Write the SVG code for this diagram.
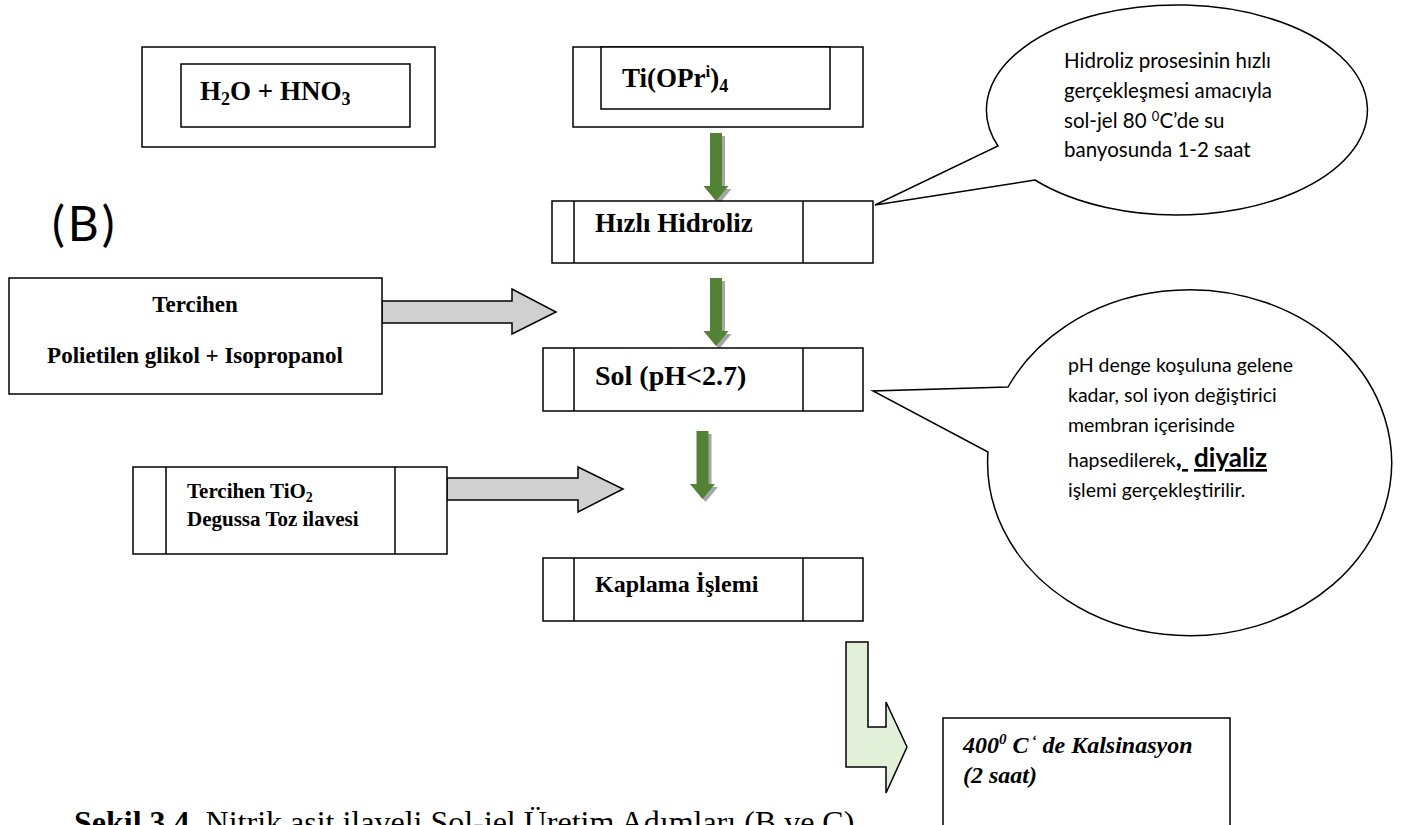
<svg xmlns="http://www.w3.org/2000/svg" width="1405" height="825" viewBox="0 0 1405 825">
<style>
.box{fill:#fff;stroke:#000;stroke-width:1.5}
.ln{stroke:#000;stroke-width:1.5}
.tb{font-family:"Liberation Serif","Times New Roman",serif;font-weight:bold;fill:#000}
.tr{font-family:"Liberation Serif","Times New Roman",serif;fill:#000}
.cal{font-family:Lato,"Open Sans",sans-serif;fill:#000;font-size:19.5px}
.cal1{font-family:Lato,"Open Sans",sans-serif;fill:#000;font-size:20.5px}
.green{fill:#548235}
.shadow{fill:#a5a5a5}
.gray{fill:#d0d0d0;stroke:#000;stroke-width:1.5;stroke-linejoin:miter}
.lgreen{fill:#e2efd9;stroke:#000;stroke-width:1.5}
.callout{fill:#fff;stroke:#000;stroke-width:1.5}
</style>
<defs>
<path id="ga" d="M-6,0 H6 V53 H12.5 L0,68 L-12.5,53 H-6 Z"/>
</defs>
<rect width="1405" height="825" fill="#fff"/>

<g id="connectors">
<g transform="translate(716,133)"><use href="#ga" class="shadow" x="3" y="3"/><use href="#ga" class="green"/></g>
<g transform="translate(716,278)"><use href="#ga" class="shadow" x="3" y="3"/><use href="#ga" class="green"/></g>
<g transform="translate(702.5,431)"><use href="#ga" class="shadow" x="3" y="3"/><use href="#ga" class="green"/></g>
<polygon class="gray" points="382,301 512,301 512,289 556,312 512,334 512,323 382,323"/>
<polygon class="gray" points="447,478 578,478 578,467 623,489 578,512 578,500 447,500"/>
<polygon class="lgreen" points="846,642 868,642 868,727 886,727 886,702 907,747 886,793 886,767 846,767"/>
</g>

<g id="label-B">
<text x="52" y="241" style="font-family:Lato,'Open Sans',sans-serif;font-size:48px;letter-spacing:3px">(B)</text>
</g>

<g id="node-h2o">
<rect class="box" x="142" y="47" width="293" height="100"/>
<rect class="box" x="181" y="64" width="229" height="63"/>
<text class="tb" x="200" y="100" font-size="27">H<tspan font-size="18" dy="5">2</tspan><tspan dy="-5">O + HNO</tspan><tspan font-size="18" dy="5">3</tspan></text>
</g>

<g id="node-ti">
<rect class="box" x="573" y="47" width="290" height="80"/>
<rect class="box" x="601" y="47" width="229" height="62"/>
<text class="tb" x="622" y="87" font-size="27">Ti(OPr<tspan font-size="17" dy="-10">i</tspan><tspan dy="10">)</tspan><tspan font-size="18" dy="5">4</tspan></text>
</g>

<g id="node-hizli">
<rect class="box" x="552" y="201" width="321" height="62"/>
<line class="ln" x1="574" y1="201" x2="574" y2="263"/>
<line class="ln" x1="803" y1="201" x2="803" y2="263"/>
<text class="tb" x="595" y="232" font-size="27">Hızlı Hidroliz</text>
</g>

<g id="node-tercihen">
<rect class="box" x="9" y="278" width="373" height="116"/>
<text class="tb" x="195" y="312" font-size="23" text-anchor="middle">Tercihen</text>
<text class="tb" x="195" y="363" font-size="23" text-anchor="middle">Polietilen glikol + Isopropanol</text>
</g>

<g id="node-sol">
<rect class="box" x="543" y="348" width="320" height="63"/>
<line class="ln" x1="574" y1="348" x2="574" y2="411"/>
<line class="ln" x1="803" y1="348" x2="803" y2="411"/>
<text class="tb" x="595" y="385" font-size="28">Sol (pH&lt;2.7)</text>
</g>

<g id="node-tio2">
<rect class="box" x="133" y="467" width="314" height="87"/>
<line class="ln" x1="166" y1="467" x2="166" y2="554"/>
<line class="ln" x1="395" y1="467" x2="395" y2="554"/>
<text class="tb" x="187" y="498" font-size="21">Tercihen TiO<tspan font-size="14" dy="4">2</tspan></text>
<text class="tb" x="187" y="526" font-size="21">Degussa Toz ilavesi</text>
</g>

<g id="node-kaplama">
<rect class="box" x="543" y="558" width="320" height="63"/>
<line class="ln" x1="574" y1="558" x2="574" y2="621"/>
<line class="ln" x1="803" y1="558" x2="803" y2="621"/>
<text class="tb" x="595" y="592" font-size="24">Kaplama İşlemi</text>
</g>

<g id="callout-hidroliz">
<path class="callout" d="M1035,180 L875,205 L998,146 A190.5,105 0 1 1 1035,180 Z"/>
<text class="cal1" x="1064" y="68">Hidroliz prosesinin hızlı</text>
<text class="cal1" x="1064" y="98">gerçekleşmesi amacıyla</text>
<text class="cal1" x="1064" y="128">sol-jel 80 <tspan font-size="13" dy="-7">0</tspan><tspan dy="7">C’de su</tspan></text>
<text class="cal1" x="1064" y="157">banyosunda 1-2 saat</text>
</g>

<g id="callout-diyaliz">
<path class="callout" d="M1008,387 L873,391 L988,452 A202,173 0 1 0 1008,387 Z"/>
<text class="cal" x="1068" y="372">pH denge koşuluna gelene</text>
<text class="cal" x="1068" y="402">kadar, sol iyon değiştirici</text>
<text class="cal" x="1068" y="432">membran içerisinde</text>
<text class="cal" x="1068" y="467">hapsedilerek<tspan font-weight="bold" font-size="26" text-decoration="underline">, <tspan dx="6">diyaliz</tspan></tspan></text>
<text class="cal" x="1068" y="497">işlemi gerçekleştirilir.</text>
</g>

<g id="node-kalsinasyon">
<rect class="box" x="943" y="718" width="287" height="120"/>
<text class="tb" x="963" y="753" font-size="24" font-style="italic">400<tspan font-size="15" dy="-9">0</tspan><tspan dy="9"> C</tspan><tspan font-size="15" dy="-8" dx="3">‘</tspan><tspan dy="8"> de Kalsinasyon</tspan></text>
<text class="tb" x="963" y="783" font-size="24" font-style="italic">(2 saat)</text>
</g>

<g id="caption">
<text class="tr" x="74" y="833" font-size="32"><tspan font-weight="bold">Şekil 3.4.</tspan> Nitrik asit ilaveli Sol-jel Üretim Adımları (B ve C)</text>
</g>
</svg>
